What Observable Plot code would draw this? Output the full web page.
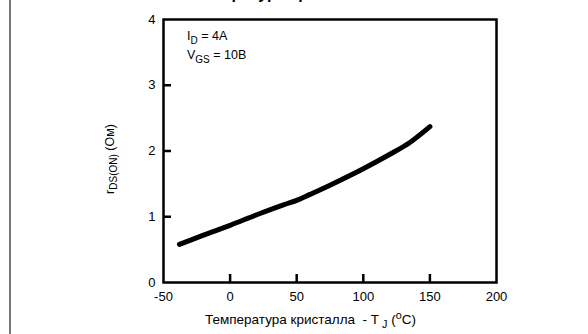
<!DOCTYPE html>
<html>
<head>
<meta charset="utf-8">
<script src="https://cdn.jsdelivr.net/npm/d3@7"></script>
<script src="https://cdn.jsdelivr.net/npm/@observablehq/plot@0.6"></script>
<style>
  html, body { margin: 0; padding: 0; background: #fff; }
  #wrap { position: relative; width: 588px; height: 334px; overflow: hidden; font-family: "Liberation Sans", Arial, sans-serif; color: #000; }
  .lbl { position: absolute; white-space: pre; font-size: 12px; line-height: 14px; }
  sub, sup { font-size: 0.8em; line-height: 0; }
  #edge { position: absolute; left: 9px; top: 0; width: 2px; height: 334px; background: #777; }
</style>
</head>
<body>
<div id="wrap"></div>
<script>
// Data
const tempC = [-38, -20, 0, 20, 40, 50, 60, 75, 100, 120, 135, 150];
const rdsOn = [0.58, 0.72, 0.87, 1.03, 1.18, 1.25, 1.34, 1.48, 1.73, 1.95, 2.13, 2.37];
const xTickValues = [-50, 0, 50, 100, 150, 200];
const xInnerTicks = [0, 50, 100, 150];
const yTickValues = [0, 1, 2, 3, 4];
const yInnerTicks = [1, 2, 3];
const titleText = "Температура кристалла";
const xLabelText = "Температура кристалла  - T";
const yLabelText = "r";
const note1 = ["I", "D", " = 4A"];
const note2 = ["V", "GS", " = 10B"];

const data = tempC.map((t, i) => ({t, r: rdsOn[i]}));

const W = 588, H = 334;
const mL = 163, mR = 92, mT = 19, mB = 52;
const frameH = H - mT - mB;
const tickLen = 8;

const plot = Plot.plot({
  width: W, height: H,
  marginLeft: mL, marginRight: mR, marginTop: mT, marginBottom: mB,
  style: {background: "transparent", fontFamily: "Liberation Sans, Arial, sans-serif", fontSize: "13px", color: "#000"},
  x: {domain: [-50, 200]},
  y: {domain: [0, 4]},
  marks: [
    Plot.axisX(xTickValues, {tickSize: 0, tickPadding: 9, label: null, fontSize: 13, tickFormat: d => String(d)}),
    Plot.axisY(yTickValues, {tickSize: 0, tickPadding: 8, label: null, fontSize: 13, tickFormat: d => String(d)}),
    Plot.ruleX(xInnerTicks, {x: d => d, insetTop: frameH - tickLen, stroke: "#000", strokeWidth: 2.5}),
    Plot.ruleY(yInnerTicks, {y: d => d, insetRight: (W - mL - mR) - tickLen, stroke: "#000", strokeWidth: 2.5}),
    Plot.frame({stroke: "#000", strokeWidth: 2.5}),
    Plot.line(data, {x: "t", y: "r", stroke: "#000", strokeWidth: 5, curve: "catmull-rom"})
  ]
});

const wrap = document.getElementById("wrap");
wrap.appendChild(plot);
plot.style.position = "absolute";
plot.style.left = "0px";
plot.style.top = "0px";

const edge = document.createElement("div");
edge.id = "edge";
wrap.appendChild(edge);

const xs = plot.scale("x"), ys = plot.scale("y");

function addLabel(html, css) {
  const d = document.createElement("div");
  d.className = "lbl";
  d.innerHTML = html;
  Object.assign(d.style, css);
  wrap.appendChild(d);
  return d;
}

// title (clipped at top, as in reference)
addLabel(titleText, {left: "0px", width: "588px", textAlign: "center", top: "-14px", fontWeight: "bold", fontSize: "16px", lineHeight: "15px", transform: "translateX(-16px)"});

// annotations
const ax = xs.apply(-32);
addLabel(note1[0] + "<sub>" + note1[1] + "</sub>" + note1[2], {left: ax + "px", top: "29px", fontSize: "12.5px"});
addLabel(note2[0] + "<sub>" + note2[1] + "</sub>" + note2[2], {left: ax + "px", top: "48px", fontSize: "12.5px"});

// x label
const xl = addLabel(xLabelText + "<sub> J</sub> (<sup>o</sup>C)", {top: "313px", fontSize: "13.5px"});
xl.style.left = "205px";

// y label rotated
const yl = addLabel(yLabelText + "<sub>DS(ON)</sub> (Ом)", {fontSize: "12.5px"});
const w = yl.offsetWidth, h = yl.offsetHeight;
const cx = 110, cy = 159;
yl.style.left = (cx - w / 2) + "px";
yl.style.top = (cy - h / 2) + "px";
yl.style.transform = "rotate(-90deg)";
</script>
</body>
</html>
